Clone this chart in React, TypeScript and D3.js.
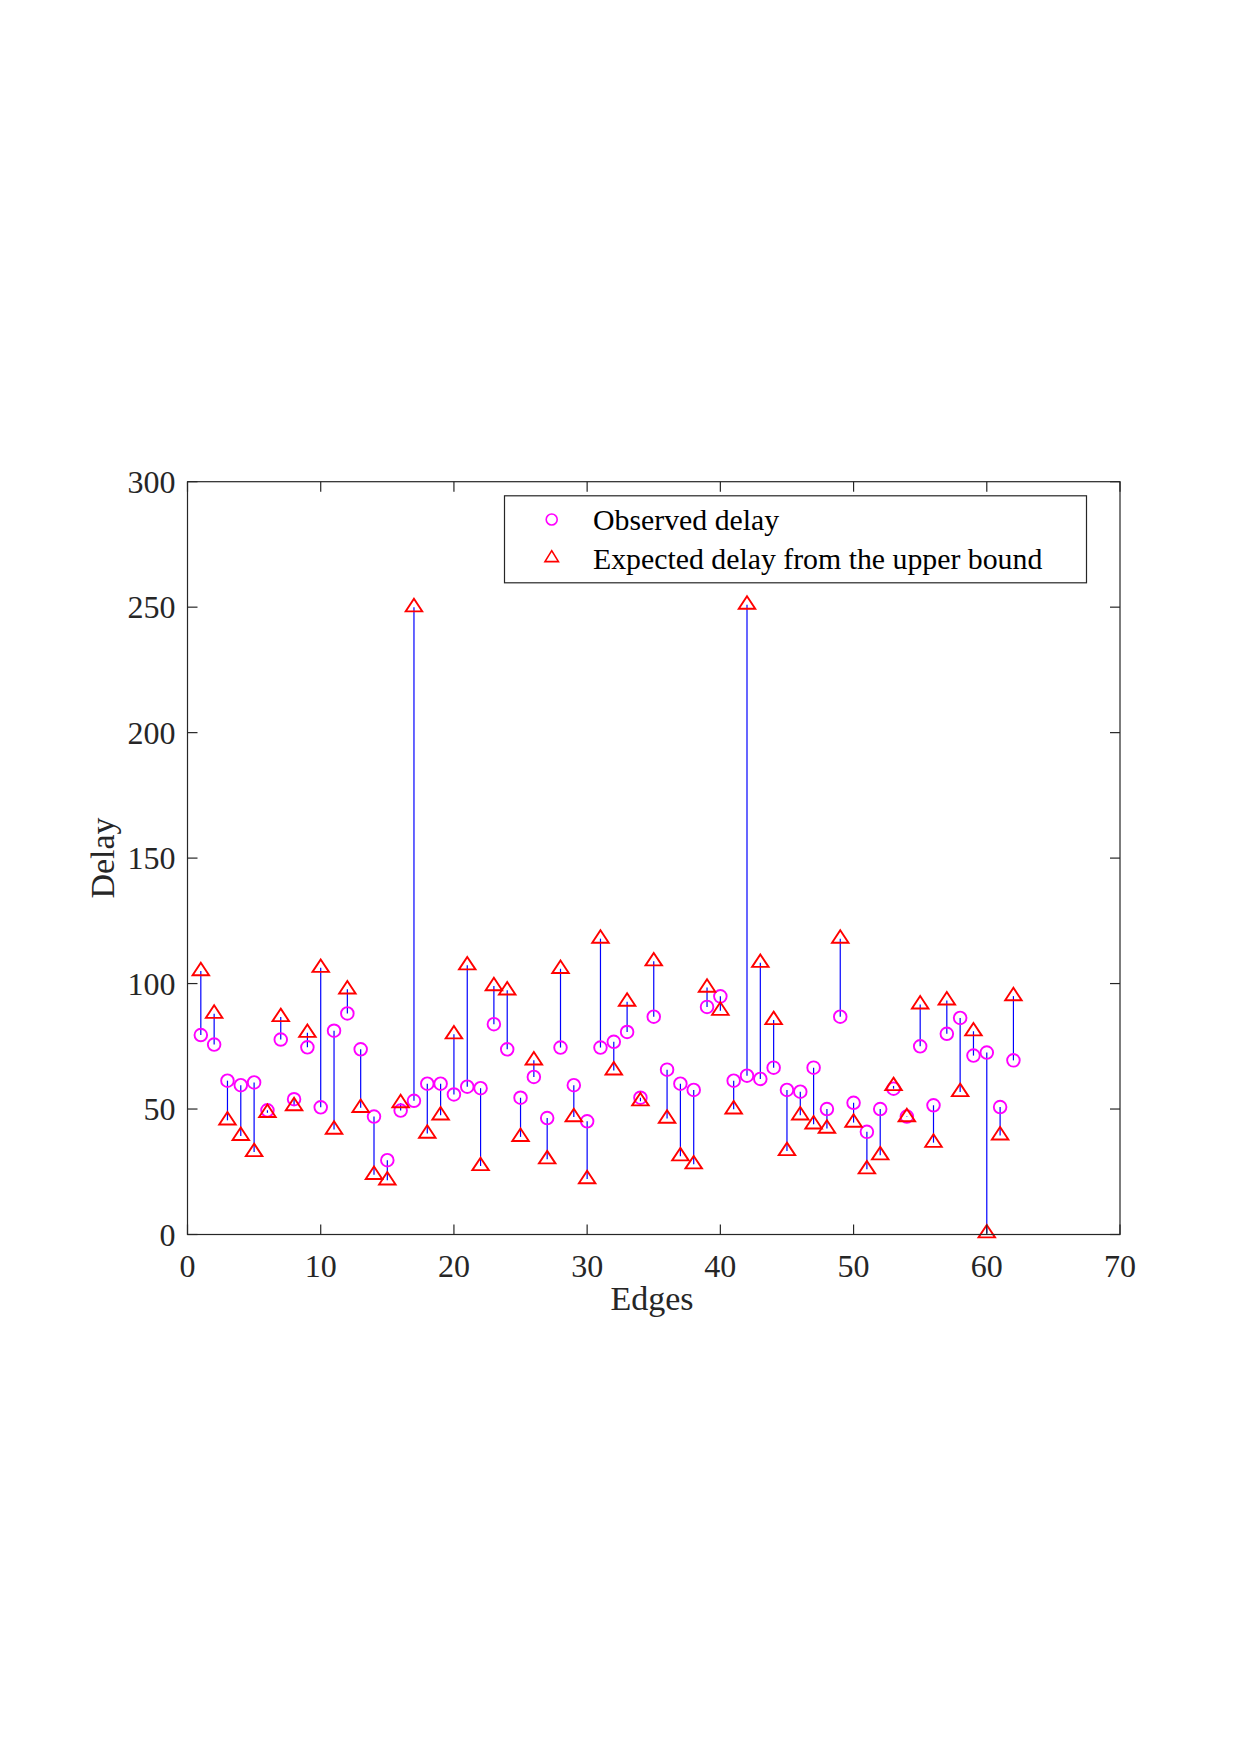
import React from "react";
import * as d3 from "d3";

// Edge indices 1..62
const edges: number[] = d3.range(1, 63);

// Measured (observed) delay per edge
const observed: number[] = [
  79.5, 75.7, 61.3, 59.5, 60.6, 49.5, 77.7, 53.9, 74.6, 50.7,
  81.2, 88.1, 73.8, 47.0, 29.6, 49.4, 53.3, 60.1, 60.1, 55.8,
  58.9, 58.3, 83.8, 73.8, 54.5, 62.8, 46.4, 74.5, 59.5, 45.1,
  74.5, 76.8, 80.7, 54.5, 86.8, 65.7, 60.1, 57.6, 90.7, 94.9,
  61.3, 63.3, 62.0, 66.5, 57.6, 56.9, 66.5, 50.0, 86.8, 52.5,
  40.9, 50.0, 58.1, 47.0, 75.0, 51.5, 80.0, 86.3, 71.3, 72.5,
  50.8, 69.4,
];

// Delay expected from the upper bound per edge
const expected: number[] = [
  105.0, 88.0, 45.5, 39.3, 32.9, 48.5, 86.7, 51.2, 80.4, 106.3,
  41.8, 97.7, 50.5, 23.8, 21.6, 52.4, 250.0, 40.2, 47.5, 79.8,
  107.3, 27.3, 99.0, 97.3, 38.9, 69.4, 30.0, 105.9, 46.8, 22.1,
  117.9, 65.4, 92.8, 53.1, 108.9, 46.2, 31.2, 28.0, 98.4, 89.2,
  49.9, 251.0, 108.3, 85.5, 33.3, 47.5, 43.9, 42.2, 117.9, 44.6,
  26.0, 31.6, 59.2, 46.8, 91.7, 36.6, 93.3, 56.8, 81.0, 0.5,
  39.5, 95.0,
];

const xTicks: number[] = [0, 10, 20, 30, 40, 50, 60, 70];
const yTicks: number[] = [0, 50, 100, 150, 200, 250, 300];
const legendLabels: string[] = ["Observed delay", "Expected delay from the upper bound"];

const W = 1240;
const H = 1755;
const left = 187.5;
const right = 1120;
const top = 481.7;
const bottom = 1234.5;
const FONT = "'Liberation Serif', 'Times New Roman', Times, serif";
const AXIS = "#262626";

// Wide, open triangle with its centroid on the data point
function tri(w: number, h: number): string {
  return `M0,${-(2 * h) / 3}L${w / 2},${h / 3}L${-w / 2},${h / 3}Z`;
}

export default function App() {
  const x = d3.scaleLinear().domain([0, 70]).range([left, right]);
  const y = d3.scaleLinear().domain([0, 300]).range([bottom, top]);
  const tickLen = 10;
  const triPath = tri(16.5, 12.5);
  const legTri = tri(13.5, 11);

  return (
    <svg
      width={W}
      height={H}
      viewBox={`0 0 ${W} ${H}`}
      style={{ position: "absolute", left: 0, top: 0, background: "#fff" }}
    >
      <rect x={0} y={0} width={W} height={H} fill="#fff" />

      {/* stems between the two series */}
      <g stroke="#0000ff" strokeWidth={1.2}>
        {edges.map((e, i) => (
          <line
            key={"s" + e}
            x1={x(e)}
            x2={x(e)}
            y1={y(observed[i])}
            y2={y(expected[i])}
          />
        ))}
      </g>

      {/* observed delay markers */}
      <g fill="none" stroke="#ff00ff" strokeWidth={1.9}>
        {edges.map((e, i) => (
          <circle key={"c" + e} cx={x(e)} cy={y(observed[i])} r={6.3} />
        ))}
      </g>

      {/* expected delay markers */}
      <g fill="none" stroke="#ff0000" strokeWidth={1.9} strokeLinejoin="miter">
        {edges.map((e, i) => (
          <path
            key={"t" + e}
            d={triPath}
            transform={`translate(${x(e)},${y(expected[i])})`}
          />
        ))}
      </g>

      {/* axes box */}
      <rect
        x={left}
        y={top}
        width={right - left}
        height={bottom - top}
        fill="none"
        stroke={AXIS}
        strokeWidth={1.2}
      />

      {/* ticks on all four sides */}
      <g stroke={AXIS} strokeWidth={1.2}>
        {xTicks.map((t) => (
          <g key={"xt" + t}>
            <line x1={x(t)} x2={x(t)} y1={bottom} y2={bottom - tickLen} />
            <line x1={x(t)} x2={x(t)} y1={top} y2={top + tickLen} />
          </g>
        ))}
        {yTicks.map((t) => (
          <g key={"yt" + t}>
            <line x1={left} x2={left + tickLen} y1={y(t)} y2={y(t)} />
            <line x1={right} x2={right - tickLen} y1={y(t)} y2={y(t)} />
          </g>
        ))}
      </g>

      <g fontFamily={FONT} fontSize={32} fill="#262626">
        {xTicks.map((t) => (
          <text key={"xl" + t} x={x(t)} y={1276.5} textAnchor="middle">
            {t}
          </text>
        ))}
        {yTicks.map((t) => (
          <text
            key={"yl" + t}
            x={left - 12}
            y={y(t)}
            textAnchor="end"
            dominantBaseline="central"
          >
            {t}
          </text>
        ))}
      </g>

      <text
        x={652}
        y={1310}
        textAnchor="middle"
        fontFamily={FONT}
        fontSize={34}
        fill="#262626"
      >
        Edges
      </text>
      <text
        transform={`translate(114,858) rotate(-90)`}
        textAnchor="middle"
        fontFamily={FONT}
        fontSize={34}
        fill="#262626"
      >
        Delay
      </text>

      {/* legend */}
      <g>
        <rect
          x={504.5}
          y={495.8}
          width={582}
          height={87}
          fill="#fff"
          stroke={AXIS}
          strokeWidth={1.2}
        />
        <circle cx={551.7} cy={519.5} r={5.5} fill="none" stroke="#ff00ff" strokeWidth={1.6} />
        <path
          d={legTri}
          transform="translate(551.7,558)"
          fill="none"
          stroke="#ff0000"
          strokeWidth={1.6}
        />
        <text x={593} y={530} fontFamily={FONT} fontSize={29.8} fill="#000">
          {legendLabels[0]}
        </text>
        <text x={593} y={569} fontFamily={FONT} fontSize={29.8} fill="#000">
          {legendLabels[1]}
        </text>
      </g>
    </svg>
  );
}
